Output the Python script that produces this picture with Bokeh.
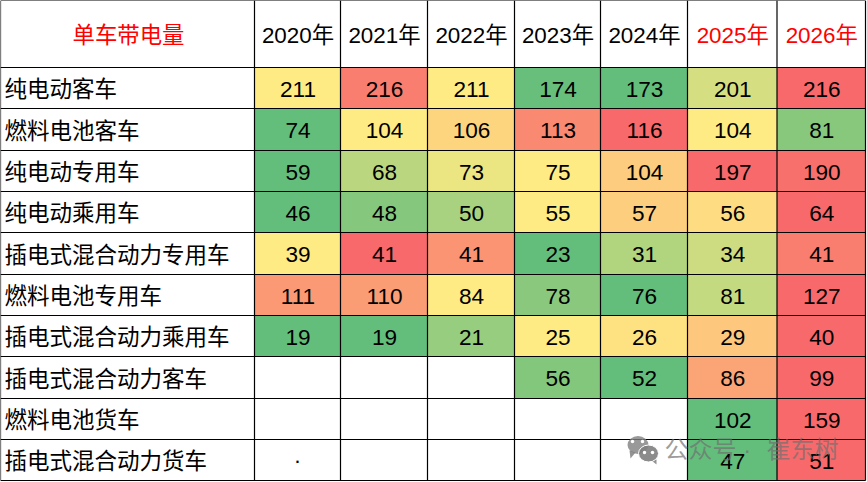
# coding=utf-8

import numpy as np
from bokeh.core.properties import value
from bokeh.embed import file_html
from bokeh.models import ColumnDataSource, Range1d
from bokeh.plotting import figure
from bokeh.resources import INLINE

title = "单车带电量"
years = ["2020年", "2021年", "2022年", "2023年", "2024年", "2025年", "2026年"]
red_years = ["2025年", "2026年"]
vehicles = ["纯电动客车", "燃料电池客车", "纯电动专用车", "纯电动乘用车", "插电式混合动力专用车",
            "燃料电池专用车", "插电式混合动力乘用车", "插电式混合动力客车", "燃料电池货车", "插电式混合动力货车"]

# 保留一位小数，单元格底色才和原图一致，显示时取整
v_bus = [211, 215.5, 211, 174, 173, 201, 216.4]
fc_bus = [74, 104, 106, 113, 116, 104, 81]
v_special = [59, 68, 73, 75, 104, 197, 190]
v_car = [46, 48, 50, 55, 57, 56, 64]
phev_special = [39, 41.4, 40.6, 23, 31, 34, 41]
fc_special = [111, 110, 84, 78, 76, 81, 127]
phev_car = [19, 19, 21, 25, 26, 29, 40]
phev_bus = [None, None, None, 56, 52, 86, 99]
fc_truck = [None, None, None, None, None, 102, 159]
phev_truck = [None, None, None, None, None, 47, 51]
rows = [v_bus, fc_bus, v_special, v_car, phev_special, fc_special, phev_car, phev_bus, fc_truck, phev_truck]

# 表格线的位置（像素）
col_edges = [0, 254, 340, 427, 514, 600, 687, 776.5, 865]
row_edges = [0, 67, 108, 150, 191, 232, 274, 315, 356, 398, 439, 480]

LOW = np.array([99, 190, 123])
MID = np.array([255, 235, 132])
HIGH = np.array([248, 105, 107])
FONT = "Liberation Sans, Noto Sans CJK SC"


def row_colors(row):
    # 和 Excel 三色刻度一样：每行最小值绿，中位数黄，最大值红
    nums = [n for n in row if n is not None]
    low, mid, high = min(nums), float(np.median(nums)), max(nums)
    colors = []
    for n in row:
        if n is None:
            colors.append("#ffffff")
        elif n <= mid:
            t = (n - low) / (mid - low) if mid > low else 0
            colors.append("#%02x%02x%02x" % tuple(int(c) for c in LOW + (MID - LOW) * t))
        else:
            t = (n - mid) / (high - mid)
            colors.append("#%02x%02x%02x" % tuple(int(c) for c in MID + (HIGH - MID) * t))
    return colors


p = figure(width=867, height=482, output_backend="svg", toolbar_location=None,
           x_range=Range1d(0, 867), y_range=Range1d(482, 0),
           x_axis_location=None, y_axis_location=None, min_border=0)
p.grid.visible = False
p.outline_line_color = None

# 单元格
cell = dict(left=[], right=[], top=[], bottom=[], color=[], x=[], y=[], label=[])
for i, row in enumerate(rows):
    colors = row_colors(row)
    for j, n in enumerate(row):
        cell["left"].append(col_edges[j + 1])
        cell["right"].append(col_edges[j + 2])
        cell["top"].append(row_edges[i + 1])
        cell["bottom"].append(row_edges[i + 2])
        cell["color"].append(colors[j])
        cell["x"].append((col_edges[j + 1] + col_edges[j + 2]) / 2 + 0.5)
        cell["y"].append((row_edges[i + 1] + row_edges[i + 2]) / 2 + 1.2)
        cell["label"].append("" if n is None else str(int(round(n))))
source = ColumnDataSource(cell)
p.quad(left="left", right="right", top="top", bottom="bottom", fill_color="color", line_color=None, source=source)

# 表格线
p.segment(x0=col_edges, x1=col_edges, y0=[row_edges[0]] * len(col_edges), y1=[row_edges[-1]] * len(col_edges),
          line_color="black", line_width=1.2)
p.segment(x0=[col_edges[0]] * len(row_edges), x1=[col_edges[-1]] * len(row_edges), y0=row_edges, y1=row_edges,
          line_color="black", line_width=1.2)

# 数字
p.text(x="x", y="y", text="label", source=source, text_font=value(FONT), text_font_size="22.6px",
       text_align="center", text_baseline="middle", text_color="black")
# 2020年货车那格原图有个小点
p.text(x=[(col_edges[1] + col_edges[2]) / 2], y=[row_edges[-2] + 21], text=["·"], text_font=value(FONT),
       text_font_size="22.4px", text_align="center", text_baseline="middle", text_color="black")

# 表头
p.text(x=[(col_edges[0] + col_edges[1]) / 2 + 1], y=[35], text=[title], text_font=value(FONT), text_font_size="22.4px",
       text_align="center", text_baseline="middle", text_color="#ff0000")
p.text(x=[(col_edges[j + 1] + col_edges[j + 2]) / 2 + 0.5 for j in range(len(years))], y=[34.5] * len(years), text=years,
       text_font=value(FONT), text_font_size="22.4px", text_align="center", text_baseline="middle",
       text_color=["#ff0000" if y in red_years else "black" for y in years])

# 第一列
p.text(x=[4] * len(vehicles), y=[(row_edges[i + 1] + row_edges[i + 2]) / 2 + 1.5 for i in range(len(vehicles))],
       text=vehicles, text_font=value(FONT), text_font_size="22.5px", text_align="left", text_baseline="middle",
       text_color="black")

# 水印
p.ellipse(x=[637.5], y=[444.5], width=21, height=18, fill_color="#808080", fill_alpha=0.8, line_color=None)
p.patches(xs=[[629, 635, 630], [651, 656, 656]], ys=[[450, 452, 458], [460, 459, 464]],
          fill_color="#808080", fill_alpha=0.85, line_color=None)
p.ellipse(x=[648], y=[453], width=20, height=17, fill_color="#808080", fill_alpha=0.9, line_color="white", line_width=1)
p.ellipse(x=[632, 642, 644, 652], y=[441, 441, 452, 452], width=3.5, height=3.5, fill_color="white", line_color=None)
p.text(x=[664], y=[448.5], text=["公众号 ·\u00a0\u00a0\u200a崔东树"], text_font=value(FONT), text_font_size="24px",
       text_align="left", text_baseline="middle", text_color="#707070", text_alpha=0.7)

open("out.html", "w").write(file_html(p, INLINE))
